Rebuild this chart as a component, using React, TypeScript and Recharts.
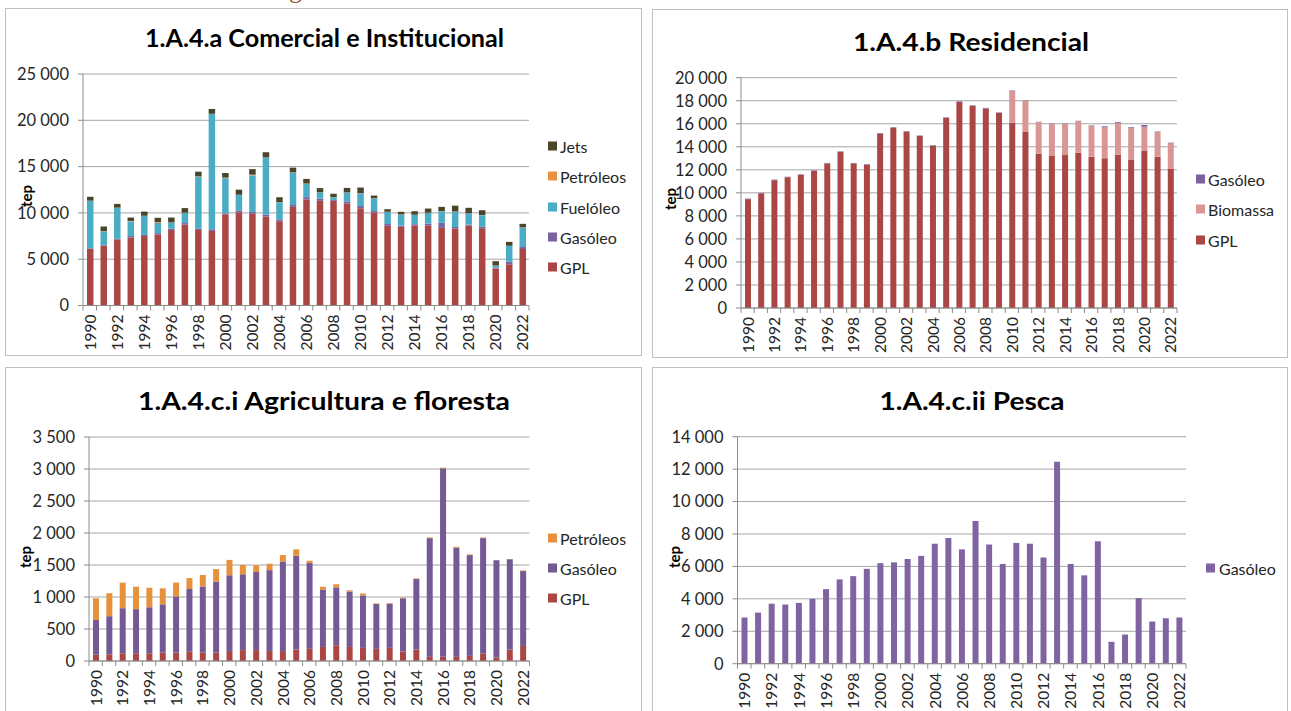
import { BarChart, Bar, XAxis, YAxis, CartesianGrid } from "recharts";

const YEARS = [
  "1990", "1991", "1992", "1993", "1994", "1995", "1996", "1997", "1998", "1999",
  "2000", "2001", "2002", "2003", "2004", "2005", "2006", "2007", "2008", "2009",
  "2010", "2011", "2012", "2013", "2014", "2015", "2016", "2017", "2018", "2019",
  "2020", "2021", "2022",
];

// 1.A.4.a Comercial e Institucional (tep)
const A_GPL = [6100, 6450, 7150, 7350, 7500, 7650, 8150, 8750, 8150, 8050, 9850, 10050, 9900, 9600, 9100, 10650, 11450, 11300, 11300, 11000, 10500, 10050, 8600, 8500, 8630, 8650, 8380, 8300, 8630, 8350, 4000, 4450, 6100];
const A_GASOLEO = [70, 50, 50, 150, 120, 170, 150, 150, 150, 180, 100, 220, 200, 220, 200, 200, 250, 230, 100, 200, 250, 150, 200, 120, 150, 200, 550, 180, 100, 150, 80, 280, 220];
const A_FUELOLEO = [5130, 1500, 3350, 1580, 2050, 1100, 650, 1100, 5600, 12450, 3800, 1670, 3950, 6150, 1850, 3500, 1450, 680, 300, 1000, 1370, 1370, 1300, 1200, 1000, 1150, 1250, 1650, 1200, 1250, 220, 1700, 2100];
const A_PETROLEOS = [20, 30, 20, 50, 20, 100, 20, 20, 50, 20, 60, 20, 80, 20, 20, 30, 20, 20, 20, 20, 20, 20, 20, 20, 20, 20, 20, 20, 20, 20, 20, 20, 20];
const A_JETS = [420, 500, 400, 370, 450, 450, 530, 500, 500, 520, 500, 550, 600, 560, 520, 510, 500, 450, 350, 480, 600, 280, 280, 280, 380, 450, 450, 630, 600, 520, 470, 420, 380];
const A_TICKS = [0, 5000, 10000, 15000, 20000, 25000];

// 1.A.4.b Residencial
const B_GPL = [9450, 9950, 11100, 11350, 11550, 11900, 12550, 13550, 12550, 12450, 15150, 15650, 15300, 14930, 14100, 16500, 17900, 17550, 17330, 16930, 16080, 15300, 13400, 13200, 13280, 13480, 13140, 13000, 13300, 12900, 13630, 13140, 12070];
const B_BIOMASSA = [0, 0, 0, 0, 0, 0, 0, 0, 0, 0, 0, 0, 0, 0, 0, 0, 0, 0, 0, 0, 2800, 2700, 2740, 2780, 2700, 2750, 2700, 2700, 2750, 2750, 2110, 2170, 2230];
const B_GASOLEO = [50, 50, 50, 50, 50, 50, 50, 50, 50, 50, 50, 50, 50, 50, 50, 50, 50, 50, 50, 50, 30, 20, 30, 30, 30, 30, 30, 80, 90, 60, 150, 30, 60];
const B_TICKS = [0, 2000, 4000, 6000, 8000, 10000, 12000, 14000, 16000, 18000, 20000];

// 1.A.4.c.i Agricultura e floresta
const C_GPL = [100, 105, 120, 120, 120, 130, 130, 145, 130, 130, 155, 170, 170, 155, 155, 180, 190, 220, 245, 220, 205, 190, 205, 150, 180, 65, 65, 65, 80, 120, 55, 180, 235];
const C_GASOLEO = [540, 595, 705, 690, 720, 755, 880, 980, 1035, 1110, 1185, 1185, 1220, 1265, 1400, 1465, 1340, 895, 905, 865, 820, 700, 690, 830, 1100, 1855, 2945, 1705, 1575, 1800, 1520, 1410, 1170];
const C_PETROLEOS = [340, 360, 400, 350, 305, 250, 215, 170, 180, 195, 240, 145, 105, 100, 100, 100, 37, 45, 50, 20, 30, 10, 10, 10, 10, 10, 10, 15, 10, 10, 0, 0, 10];
const C_TICKS = [0, 500, 1000, 1500, 2000, 2500, 3000, 3500];

// 1.A.4.c.ii Pesca
const D_GASOLEO = [2850, 3150, 3700, 3650, 3750, 4000, 4600, 5200, 5400, 5850, 6200, 6250, 6450, 6650, 7400, 7750, 7050, 8800, 7350, 6150, 7450, 7400, 6550, 12450, 6150, 5450, 7550, 1350, 1800, 4050, 2600, 2800, 2850];
const D_TICKS = [0, 2000, 4000, 6000, 8000, 10000, 12000, 14000];

const RED = "#AA4643";
const PURPLE = "#7D62A0";
const PURPLE_DARK = "#735A94";
const AQUA = "#4BACC6";
const ORANGE = "#E8913D";
const OLIVE = "#4A452A";
const PINK = "#D99694";
const AXIS = "#8C8C8C";
const GRID = "#A6A6A6";
const TEXT = "#262626";
const FONT = "Lato, 'Open Sans', sans-serif";

type Series = { key: string; name: string; color: string; values: number[] };
type PanelDef = {
  title: string;
  box: { x: number; y: number; w: number; h: number };
  plot: { l: number; t: number; r: number; b: number };
  titlePos: { cx: number; y: number; w: number };
  tep: { x: number; y: number };
  legend: { mx: number; tx: number; ys: number[] };
  ticks: number[];
  barSize: number;
  series: Series[];
};

const PANELS: PanelDef[] = [
  {
    title: "1.A.4.a Comercial e Institucional",
    box: { x: 5, y: 8, w: 637, h: 348 },
    plot: { l: 83, t: 74, r: 529, b: 305.5 },
    titlePos: { cx: 324.5, y: 47, w: 359 },
    tep: { x: 26, y: 196 },
    legend: { mx: 548, tx: 560, ys: [146, 176, 207, 237, 267] },
    ticks: A_TICKS,
    barSize: 6.5,
    series: [
      { key: "gpl", name: "GPL", color: RED, values: A_GPL },
      { key: "gas", name: "Gasóleo", color: PURPLE, values: A_GASOLEO },
      { key: "fuel", name: "Fuelóleo", color: AQUA, values: A_FUELOLEO },
      { key: "pet", name: "Petróleos", color: ORANGE, values: A_PETROLEOS },
      { key: "jets", name: "Jets", color: OLIVE, values: A_JETS },
    ],
  },
  {
    title: "1.A.4.b Residencial",
    box: { x: 652, y: 9, w: 636, h: 349 },
    plot: { l: 741, t: 77.7, r: 1177, b: 308 },
    titlePos: { cx: 971, y: 51, w: 236 },
    tep: { x: 670, y: 199 },
    legend: { mx: 1196, tx: 1208, ys: [179, 209, 240] },
    ticks: B_TICKS,
    barSize: 6,
    series: [
      { key: "gpl", name: "GPL", color: RED, values: B_GPL },
      { key: "bio", name: "Biomassa", color: PINK, values: B_BIOMASSA },
      { key: "gas", name: "Gasóleo", color: PURPLE, values: B_GASOLEO },
    ],
  },
  {
    title: "1.A.4.c.i Agricultura e floresta",
    box: { x: 5, y: 367, w: 637, h: 360 },
    plot: { l: 89, t: 437, r: 529.5, b: 661 },
    titlePos: { cx: 324, y: 410, w: 372 },
    tep: { x: 25, y: 557 },
    legend: { mx: 548, tx: 560, ys: [538, 568, 598] },
    ticks: C_TICKS,
    barSize: 6,
    series: [
      { key: "gpl", name: "GPL", color: RED, values: C_GPL },
      { key: "gas", name: "Gasóleo", color: PURPLE_DARK, values: C_GASOLEO },
      { key: "pet", name: "Petróleos", color: ORANGE, values: C_PETROLEOS },
    ],
  },
  {
    title: "1.A.4.c.ii Pesca",
    box: { x: 652, y: 367, w: 636, h: 360 },
    plot: { l: 737.5, t: 436.7, r: 1186, b: 663.7 },
    titlePos: { cx: 972, y: 410, w: 185 },
    tep: { x: 674, y: 557 },
    legend: { mx: 1206, tx: 1219, ys: [568] },
    ticks: D_TICKS,
    barSize: 6,
    series: [{ key: "gas", name: "Gasóleo", color: "#8064A2", values: D_GASOLEO }],
  },
];

const fmt = (v: number) => String(v).replace(/\B(?=(\d{3})+(?!\d))/g, " ");

function XTick({ x, y, payload, bw }: any) {
  const year = String(payload.value);
  const show = Number(year) % 2 === 0;
  return (
    <g>
      <line x1={x - bw / 2} y1={y} x2={x - bw / 2} y2={y + 5} stroke={AXIS} />
      {year === "2022" && <line x1={x + bw / 2} y1={y} x2={x + bw / 2} y2={y + 5} stroke={AXIS} />}
      {show && (
        <text
          transform={`translate(${x},${y + 9}) rotate(-90)`}
          textAnchor="end"
          dominantBaseline="central"
          fontSize={15.5}
          fontFamily={FONT}
          fill={TEXT}
        >
          {year}
        </text>
      )}
    </g>
  );
}

function Panel({ p }: { p: PanelDef }) {
  const rows = YEARS.map((year, i) => {
    const row: Record<string, string | number> = { year };
    p.series.forEach((s) => (row[s.key] = s.values[i]));
    return row;
  });
  const bw = (p.plot.r - p.plot.l) / YEARS.length;
  const top = p.ticks[p.ticks.length - 1];
  return (
    <>
      <div
        style={{
          position: "absolute",
          left: p.box.x,
          top: p.box.y,
          width: p.box.w,
          height: p.box.h,
          border: "1px solid #BFBFBF",
          boxSizing: "border-box",
          background: "#fff",
        }}
      />
      <div style={{ position: "absolute", left: p.box.x, top: p.box.y }}>
        <BarChart
          width={p.box.w}
          height={p.box.h}
          data={rows}
          margin={{ top: p.plot.t - p.box.y, right: p.box.x + p.box.w - p.plot.r, left: 0, bottom: 0 }}
          barSize={p.barSize}
        >
          <CartesianGrid vertical={false} stroke={GRID} />
          <XAxis
            dataKey="year"
            interval={0}
            height={p.box.y + p.box.h - p.plot.b}
            tickSize={0}
            tickMargin={0}
            tickLine={false}
            axisLine={{ stroke: AXIS }}
            tick={(props: any) => <XTick {...props} bw={bw} />}
          />
          <YAxis
            width={p.plot.l - p.box.x}
            domain={[0, top]}
            ticks={p.ticks}
            interval={0}
            tickFormatter={fmt}
            tickSize={5}
            tickMargin={9}
            axisLine={{ stroke: AXIS }}
            tickLine={{ stroke: AXIS }}
            tick={{ fontSize: 16.5, fill: TEXT, fontFamily: FONT }}
          />
          {p.series.map((s) => (
            <Bar key={s.key} dataKey={s.key} name={s.name} stackId="s" fill={s.color} isAnimationActive={false} />
          ))}
        </BarChart>
      </div>
    </>
  );
}

function Overlay() {
  return (
    <svg width={1291} height={711} style={{ position: "absolute", left: 0, top: 0, pointerEvents: "none" }}>
      <text x={289} y={-2} fontSize={26} fontFamily="'Liberation Serif', serif" fill="#9B5A3C">
        g
      </text>
      {PANELS.map((p) => (
        <g key={p.title} fontFamily={FONT}>
          <text
            x={p.titlePos.cx}
            y={p.titlePos.y}
            textAnchor="middle"
            fontSize={25}
            fontWeight="bold"
            fill="#000"
            textLength={p.titlePos.w}
            lengthAdjust="spacingAndGlyphs"
          >
            {p.title}
          </text>
          <text
            transform={`translate(${p.tep.x},${p.tep.y}) rotate(-90)`}
            textAnchor="middle"
            dominantBaseline="central"
            fontSize={15}
            fontWeight="bold"
            fill="#000"
          >
            tep
          </text>
          {[...p.series].reverse().map((s, i) => (
            <g key={s.key}>
              <rect x={p.legend.mx} y={p.legend.ys[i] - 4.5} width={9} height={9} fill={s.color} />
              <text x={p.legend.tx} y={p.legend.ys[i]} dominantBaseline="central" fontSize={16} fill={TEXT}>
                {s.name}
              </text>
            </g>
          ))}
        </g>
      ))}
    </svg>
  );
}

export default function App() {
  return (
    <div
      style={{
        position: "absolute",
        left: 0,
        top: 0,
        width: 1291,
        height: 711,
        overflow: "hidden",
        background: "#fff",
        fontFamily: FONT,
      }}
    >
      {PANELS.map((p) => (
        <Panel key={p.title} p={p} />
      ))}
      <Overlay />
    </div>
  );
}
